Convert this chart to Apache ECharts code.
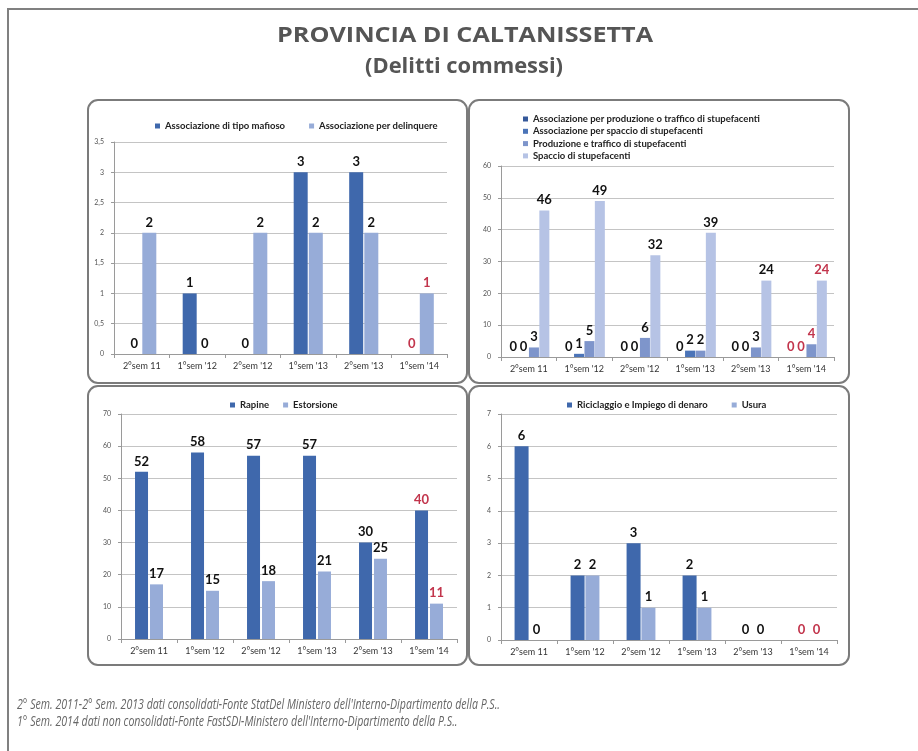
<!DOCTYPE html>
<html>
<head>
<meta charset="utf-8">
<script src="https://cdn.jsdelivr.net/npm/echarts@6/dist/echarts.min.js"></script>
<style>
html,body{margin:0;padding:0;background:#fff;}
#chart{width:918px;height:751px;}
</style>
</head>
<body>
<div id="chart"></div>
<script>
// ---- Data ----
const categories = ["2°sem 11", "1°sem '12", "2°sem '12", "1°sem '13", "2°sem '13", "1°sem '14"];

// Panel 1
const p1Names = ["Associazione di tipo mafioso", "Associazione per delinquere"];
const assocMafioso = [0, 1, 0, 3, 3, 0];
const assocDelinquere = [2, 0, 2, 2, 2, 1];
const p1Ticks = [0, 0.5, 1, 1.5, 2, 2.5, 3, 3.5];

// Panel 2
const p2Names = ["Associazione per produzione o traffico di stupefacenti",
                 "Associazione per spaccio di stupefacenti",
                 "Produzione e traffico di stupefacenti",
                 "Spaccio di stupefacenti"];
const assocProdTraffico = [0, 0, 0, 0, 0, 0];
const assocSpaccio = [0, 1, 0, 2, 0, 0];
const prodTraffico = [3, 5, 6, 2, 3, 4];
const spaccio = [46, 49, 32, 39, 24, 24];
const p2Ticks = [0, 10, 20, 30, 40, 50, 60];

// Panel 3
const p3Names = ["Rapine", "Estorsione"];
const rapine = [52, 58, 57, 57, 30, 40];
const estorsione = [17, 15, 18, 21, 25, 11];
const p3Ticks = [0, 10, 20, 30, 40, 50, 60, 70];

// Panel 4
const p4Names = ["Riciclaggio e Impiego di denaro", "Usura"];
const riciclaggio = [6, 2, 3, 2, 0, 0];
const usura = [0, 2, 1, 1, 0, 0];
const p4Ticks = [0, 1, 2, 3, 4, 5, 6, 7];

const titleLines = ["PROVINCIA DI CALTANISSETTA", "(Delitti commessi)"];
const footerLines = [
  "2° Sem. 2011-2° Sem. 2013 dati consolidati-Fonte StatDel Ministero dell'Interno-Dipartimento della P.S..",
  "1° Sem. 2014 dati non consolidati-Fonte FastSDI-Ministero dell'Interno-Dipartimento della P.S.."
];

// ---- Styles ----
const DARK = '#3F68AC';
const LIGHT = '#97ACD8';
const RED = '#C2354C';
const LABEL_FONT = 'Lato, "Open Sans", sans-serif';

const chart = echarts.init(document.getElementById('chart'), null, {renderer: 'canvas'});

// text measuring helper (layout only)
const mctx = document.createElement('canvas').getContext('2d');
function measure(font, text) { mctx.font = font; return mctx.measureText(text).width; }

const grids = [
  {left: 114, right: 918 - 447, top: 142, bottom: 751 - 354},
  {left: 501, right: 918 - 834, top: 166, bottom: 751 - 357},
  {left: 121, right: 918 - 457, top: 414, bottom: 751 - 639},
  {left: 501, right: 918 - 837, top: 414, bottom: 751 - 640}
];

const panels = [
  {ticks: p1Ticks, names: p1Names, data: [assocMafioso, assocDelinquere], colors: [DARK, LIGHT], barWidth: 14, barGap: '8%', comma: true},
  {ticks: p2Ticks, names: p2Names, data: [assocProdTraffico, assocSpaccio, prodTraffico, spaccio], colors: ['#35589A', '#4B74B8', '#7E95CB', '#B6C3E5'], barWidth: 10, barGap: '4%'},
  {ticks: p3Ticks, names: p3Names, data: [rapine, estorsione], colors: [DARK, LIGHT], barWidth: 13, barGap: '15%'},
  {ticks: p4Ticks, names: p4Names, data: [riciclaggio, usura], colors: [DARK, LIGHT], barWidth: 14, barGap: '6%'}
];

const xAxes = [], yAxes = [], series = [], legends = [];
panels.forEach((p, gi) => {
  xAxes.push({
    type: 'category', gridIndex: gi, data: categories,
    axisLine: {lineStyle: {color: '#9a9a9a', width: 1}},
    axisTick: {show: true, length: 4, lineStyle: {color: '#9a9a9a'}},
    axisLabel: {fontSize: 9, color: '#333', fontFamily: LABEL_FONT, margin: 8}
  });
  const tks = p.ticks;
  yAxes.push({
    type: 'value', gridIndex: gi, min: tks[0], max: tks[tks.length - 1],
    interval: tks[1] - tks[0],
    axisLine: {show: true, lineStyle: {color: '#9a9a9a', width: 1}},
    axisTick: {show: true, length: 3, lineStyle: {color: '#9a9a9a'}},
    splitLine: {lineStyle: {color: '#c4c4c4', width: 1}},
    axisLabel: {fontSize: 7, color: '#555', fontFamily: LABEL_FONT, margin: 10,
      formatter: v => p.comma ? String(v).replace('.', ',') : String(v)}
  });
  p.data.forEach((arr, si) => {
    series.push({
      type: 'bar', name: p.names[si], xAxisIndex: gi, yAxisIndex: gi,
      barWidth: p.barWidth, barGap: p.barGap,
      itemStyle: {color: p.colors[si]},
      label: {show: true, position: 'top', distance: 4, fontSize: 13, fontWeight: 'bold', fontFamily: LABEL_FONT, color: '#111'},
      data: arr.map((v, i) => ({value: v, label: {color: i === arr.length - 1 ? RED : '#111'}}))
    });
  });
});

const legendText = {fontSize: 9.5, fontWeight: 'bold', color: '#222', fontFamily: LABEL_FONT};
legends.push({data: p1Names, left: 150, top: 116, itemWidth: 5, itemHeight: 5, itemGap: 24, textStyle: legendText, icon: 'rect'});
legends.push({data: p2Names, left: 518, top: 109, orient: 'vertical', itemWidth: 5, itemHeight: 5, itemGap: 2.3, textStyle: Object.assign({lineHeight: 10}, legendText), icon: 'rect'});
legends.push({data: p3Names, left: 225, top: 395, itemWidth: 5, itemHeight: 5, itemGap: 14, textStyle: legendText, icon: 'rect'});
legends.push({data: p4Names, left: 562, top: 395, itemWidth: 5, itemHeight: 5, itemGap: 24, textStyle: legendText, icon: 'rect'});

// fitted texts
const TITLE_FONT = 'bold 22px "Open Sans", sans-serif';
const FOOT_FONT = 'italic 14.5px "Open Sans", sans-serif';
const t1s = 376 / measure(TITLE_FONT, titleLines[0]);
const t2s = 198 / measure(TITLE_FONT, titleLines[1]);
const f1s = 483 / measure(FOOT_FONT, footerLines[0]);
const f2s = f1s;

const frame = {stroke: '#7b7b7b', lineWidth: 2, fill: 'none'};
const graphics = [
  {type: 'rect', shape: {x: 8, y: 9, width: 940, height: 780}, style: {stroke: '#808080', lineWidth: 2, fill: 'none'}, silent: true},
  {type: 'rect', shape: {x: 88, y: 100, width: 379, height: 283, r: 10}, style: frame, silent: true},
  {type: 'rect', shape: {x: 469, y: 100, width: 380, height: 283, r: 10}, style: frame, silent: true},
  {type: 'rect', shape: {x: 88, y: 386, width: 379, height: 279, r: 10}, style: frame, silent: true},
  {type: 'rect', shape: {x: 469, y: 386, width: 380, height: 279, r: 10}, style: frame, silent: true},
  {type: 'text', x: 465, y: 36, scaleX: t1s, style: {text: titleLines[0], fill: '#555', font: TITLE_FONT, textAlign: 'center', textVerticalAlign: 'middle'}},
  {type: 'text', x: 464, y: 67, scaleX: t2s, style: {text: titleLines[1], fill: '#555', font: TITLE_FONT, textAlign: 'center', textVerticalAlign: 'middle'}},
  {type: 'text', x: 17, y: 705, scaleX: f1s, style: {text: footerLines[0], fill: '#666', font: FOOT_FONT, textAlign: 'left', textVerticalAlign: 'middle'}},
  {type: 'text', x: 17, y: 722, scaleX: f2s, style: {text: footerLines[1], fill: '#666', font: FOOT_FONT, textAlign: 'left', textVerticalAlign: 'middle'}}
];

chart.setOption({
  animation: false,
  backgroundColor: '#ffffff',
  grid: grids,
  xAxis: xAxes,
  yAxis: yAxes,
  legend: legends,
  series: series,
  graphic: graphics
});
</script>
</body>
</html>
